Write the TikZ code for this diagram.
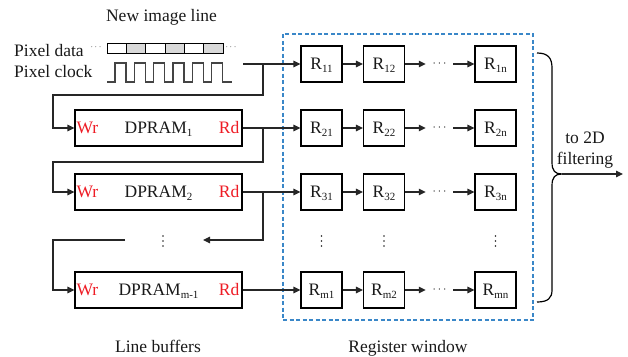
\documentclass[tikz,border=0pt]{standalone}
\usepackage{fontspec}
\setmainfont{Liberation Serif}
\usetikzlibrary{arrows.meta}

\definecolor{winblue}{HTML}{3A87C8}
\definecolor{lblred}{HTML}{EE1C25}
\definecolor{cellgray}{HTML}{D9D9D9}
\definecolor{wirec}{HTML}{262626}
\definecolor{clkc}{HTML}{444444}

% lowered index that does not change the height of the label
\newcommand\lowsub[1]{\raisebox{-0.32ex}[0pt][0pt]{\fontsize{11}{11}\selectfont #1}}

\begin{document}
\begin{tikzpicture}[x=1pt,y=-1pt,
  every node/.style={font=\fontsize{17.5}{21}\selectfont, inner sep=0pt, text=black!90},
  wire/.style={draw=wirec, line width=1.2pt},
  arr/.style={wire, -{Triangle[length=7pt,width=6.5pt]}},
  regbox/.style={draw=black, line width=1.1pt, minimum width=41pt, minimum height=36pt},
  rambox/.style={draw=black, line width=1.1pt, minimum width=167pt, minimum height=36pt},
  port/.style={text=lblred},
  hdots/.style={minimum width=27pt, font=\fontsize{13}{13}\selectfont},
  cell/.style={draw=black, line width=0.9pt},
  window/.style={draw=winblue, line width=1.1pt, dash pattern=on 4pt off 2.5pt,
                 minimum width=250pt, minimum height=286pt},
]
\useasboundingbox (0,0) rectangle (628,356);

% ---------- incoming image line ----------
\node[anchor=base] (title) at (161.5,21) {New image line};
\node[anchor=west] (pdata) at (14,50.5) {Pixel data};
\node[anchor=west] (pclk) at (14,71.5) {Pixel clock};
\node[font=\fontsize{9.5}{10}\selectfont] (pd1) at (96,47) {$\cdots$};
\node[font=\fontsize{9.5}{10}\selectfont] (pd2) at (231,47) {$\cdots$};

% pixel data strip
\foreach \k in {0,...,5}{
  \pgfmathsetmacro{\xa}{107+19.33*\k}
  \pgfmathsetmacro{\xb}{107+19.33*(\k+1)}
  \pgfmathtruncatemacro{\odd}{mod(\k,2)}
  \ifnum\odd=1
    \draw[cell, fill=cellgray] (\xa,43) rectangle (\xb,53);
  \else
    \draw[cell, fill=white] (\xa,43) rectangle (\xb,53);
  \fi
}

% pixel clock waveform
\draw[draw=clkc, line width=1.2pt, line join=miter]
  (107,82)
  \foreach \k in {0,...,5}{
    -- ({115+19.33*\k},82) -- ({115+19.33*\k},63)
    -- ({126+19.33*\k},63) -- ({126+19.33*\k},82)
  } -- (232,82);

% ---------- line buffers ----------
\node[rambox] (D1) at (158.5,128) {};
\node[rambox] (D2) at (158.5,192) {};
\node[rambox] (Dm) at (158.5,290) {};
\foreach \d/\s in {D1/1, D2/2, Dm/{m-1}}{
  \node[port, anchor=west] at ([xshift=2pt]\d.west) {Wr};
  \node[port, anchor=east] at ([xshift=-3pt]\d.east) {Rd};
  \node at (\d.center) {DPRAM\lowsub{\s}};
}
\node[anchor=base] (lb) at (158,352) {Line buffers};

% ---------- register window ----------
\node[window] (RW) at (408,177) {};
\node[anchor=base] (rwl) at (408,352) {Register window};

\foreach \r/\y in {1/64, 2/128, 3/192, m/290}{
  \node[regbox] (R\r1) at (321.5,\y) {R\lowsub{\r1}};
  \node[regbox] (R\r2) at (384,\y) {R\lowsub{\r2}};
  \node[regbox] (R\r n) at (495.5,\y) {R\lowsub{\r n}};
  \node[hdots] (h\r) at (439.5,\y) {$\cdots$};
  \draw[arr] (R\r1) -- (R\r2);
  \draw[arr] (R\r2) -- (h\r.west);
  \draw[arr] (h\r.east) -- (R\r n);
}

% vertical ellipses
\foreach \x in {163, 321.5, 384, 495.5}{
  \foreach \yy in {236, 241, 246}{
    \fill[black!85] (\x,\yy) circle (0.85pt);
  }
}

% ---------- wiring between buffers and window ----------
\coordinate (clk) at (243,64);
\coordinate (b1) at (263,64);
\coordinate (k1) at (53,95);
\draw[arr] (clk) -- (R11.west);
\draw[arr] (b1) |- (k1) |- (D1.west);

\coordinate (b2) at (263,128);
\coordinate (k2) at (53,162);
\draw[arr] (D1.east) -- (R21.west);
\draw[arr] (b2) |- (k2) |- (D2.west);

\coordinate (b3) at (263,192);
\coordinate (k3) at (203,240);
\draw[arr] (D2.east) -- (R31.west);
\draw[arr] (b3) |- (k3);

\coordinate (k4) at (125,240);
\coordinate (k5) at (53,240);
\draw[arr] (k4) -- (k5) |- (Dm.west);
\draw[arr] (Dm.east) -- (Rm1.west);

% ---------- brace to the 2D filter ----------
\draw[draw=black, line width=1.2pt]
  (537,53) .. controls (548,53) and (552,58) .. (552,68)
  -- (552,162) .. controls (552,171) and (555,174) .. (562,174)
  .. controls (555,174) and (552,177) .. (552,186)
  -- (552,290) .. controls (552,298) and (548,302) .. (537,302);
\coordinate (tip) at (562,174);
\coordinate (out) at (623,174);
\draw[arr] (tip) -- (out);
\node[align=center, anchor=north] (filt) at (585,132) {to 2D\\filtering};
\end{tikzpicture}
\end{document}
